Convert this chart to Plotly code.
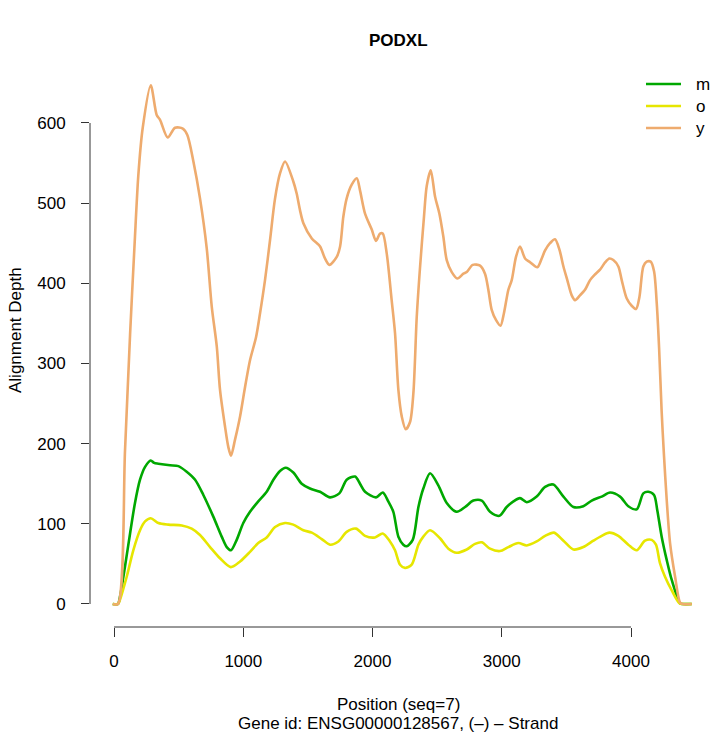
import plotly.graph_objects as go

# Alignment depth profiles along the PODXL transcript
pos_m = [-10, 30, 46, 85, 124, 162, 201, 240, 284, 310, 343, 433, 498, 562, 627, 691, 768, 833, 872, 905,
         949, 1000, 1052, 1116, 1181, 1233, 1284, 1328, 1387, 1452, 1516, 1594, 1671, 1743, 1800, 1865,
         1903, 1942, 2027, 2079, 2122, 2161, 2200, 2238, 2265, 2311, 2355, 2393, 2445, 2509, 2574, 2651,
         2716, 2780, 2845, 2909, 2981, 3038, 3090, 3141, 3193, 3270, 3335, 3399, 3477, 3554, 3631, 3696,
         3773, 3838, 3915, 3979, 4044, 4095, 4134, 4178, 4203, 4237, 4276, 4315, 4379, 4400, 4470]
depth_m = [0, 0, 9, 47, 88, 126, 155, 171, 179, 176, 175, 173, 172, 165, 155, 136, 109, 84, 71, 67,
           80, 101, 115, 128, 140, 155, 166, 170, 164, 150, 144, 140, 133, 138, 155, 159,
           150, 140, 133, 139, 128, 115, 84, 74, 72, 80, 121, 144, 163, 148, 126, 115,
           121, 129, 129, 115, 110, 121, 128, 132, 127, 134, 146, 149, 134, 121, 122, 129,
           134, 139, 134, 122, 118, 138, 140, 136, 117, 84, 55, 30, 1, 0, 0]

pos_o = [-10, 30, 41, 98, 149, 201, 240, 284, 343, 420, 524, 601, 665, 743, 820, 903, 975, 1052, 1116,
         1181, 1246, 1323, 1387, 1465, 1530, 1607, 1671, 1736, 1800, 1872, 1942, 2019, 2079, 2135, 2174,
         2213, 2251, 2303, 2355, 2393, 2445, 2522, 2587, 2651, 2729, 2793, 2845, 2909, 2986, 3051, 3128,
         3193, 3270, 3335, 3404, 3477, 3554, 3631, 3709, 3773, 3832, 3902, 3979, 4044, 4108, 4160, 4193,
         4224, 4263, 4315, 4374, 4400, 4470]
depth_o = [0, 0, 3, 34, 67, 92, 103, 107, 101, 99, 98, 94, 86, 71, 57, 46, 53, 65, 76,
           83, 96, 101, 99, 92, 89, 81, 74, 78, 90, 94, 85, 83, 88, 78, 67,
           49, 45, 49, 74, 84, 92, 82, 69, 64, 68, 75, 77, 69, 66, 71, 76,
           73, 78, 85, 89, 79, 68, 71, 79, 85, 89, 85, 74, 67, 79, 80, 74,
           51, 34, 17, 1, 0, 0]

pos_y = [-10, 30, 85, 124, 160, 188, 222, 284, 330, 356, 415, 472, 532, 567, 614, 665, 717, 756, 795,
         820, 859, 884, 905, 936, 975, 1014, 1052, 1099, 1130, 1168, 1207, 1245, 1284, 1323, 1387, 1413,
         1439, 1465, 1530, 1594, 1632, 1666, 1723, 1749, 1774, 1800, 1839, 1878, 1903, 1942, 1994, 2027,
         2058, 2079, 2110, 2148, 2174, 2200, 2226, 2257, 2290, 2316, 2342, 2368, 2398, 2419, 2450, 2484,
         2517, 2548, 2574, 2613, 2656, 2703, 2729, 2775, 2832, 2870, 2896, 2922, 2956, 2990, 3017, 3051,
         3077, 3110, 3141, 3180, 3213, 3275, 3309, 3335, 3373, 3412, 3446, 3477, 3507, 3541, 3567, 3605,
         3644, 3683, 3721, 3760, 3799, 3833, 3863, 3902, 3928, 3967, 4005, 4039, 4065, 4095, 4121, 4152,
         4178, 4199, 4217, 4237, 4255, 4276, 4302, 4341, 4379, 4400, 4470]
depth_y = [0, 0, 192, 336, 452, 535, 594, 647, 610, 604, 582, 594, 593, 585, 552, 506, 444, 371, 321,
           267, 221, 196, 185, 205, 234, 271, 304, 333, 363, 404, 454, 505, 537, 552, 527, 512,
           491, 475, 456, 446, 431, 423, 433, 446, 483, 506, 523, 531, 516, 487, 467, 453,
           462, 462, 437, 379, 338, 267, 234, 218, 227, 263, 358, 421, 483, 521, 541, 508,
           487, 458, 429, 414, 406, 412, 414, 423, 422, 412, 392, 367, 354, 347, 363, 392,
           404, 433, 446, 431, 427, 420, 431, 441, 450, 455, 442, 421, 404, 385, 379, 385,
           392, 404, 411, 417, 426, 431, 429, 421, 404, 381, 372, 368, 383, 421, 427, 427,
           415, 375, 320, 240, 185, 130, 76, 34, 2, 0, 0]

series = [("m", pos_m, depth_m, "#00A800"),
          ("o", pos_o, depth_o, "#E6E600"),
          ("y", pos_y, depth_y, "#EEAB6E")]

x_ticks = [0, 1000, 2000, 3000, 4000]
y_ticks = [0, 100, 200, 300, 400, 500, 600]

FONT = "Liberation Sans, Arial, sans-serif"
FS = 17

fig = go.Figure()
for name, xs, ys, color in series:
    fig.add_trace(go.Scatter(x=xs, y=ys, mode="lines", name=name, showlegend=False,
                             line=dict(color=color, width=2.6, shape="spline", smoothing=0.8)))

L, R, T, B = 90, 0, 60, 109
W, H = 710, 736
pw, ph = W - L - R, H - T - B


def px_x(p):
    return (p - L) / pw


def px_y(p):
    return (H - B - p) / ph


fig.update_layout(
    width=W, height=H,
    margin=dict(l=L, r=R, t=T, b=B),
    plot_bgcolor="white", paper_bgcolor="white",
    font=dict(family=FONT, size=FS, color="black"),
    showlegend=False,
    xaxis=dict(range=[-186, 4611], tickvals=x_ticks, ticks="outside", ticklen=9,
               tickcolor="#333", tickwidth=1, showline=False, showgrid=False, zeroline=False,
               ticklabelstandoff=10, fixedrange=True),
    yaxis=dict(range=[-28.7, (604 - T) / 0.8017], tickvals=y_ticks, ticks="outside",
               ticklen=8, tickcolor="#333", tickwidth=1, showline=False, showgrid=False,
               zeroline=False, ticklabelstandoff=12, fixedrange=True),
)

# Axis spines spanning only the labelled tick range
fig.add_shape(type="line", xref="x", yref="paper", x0=0, x1=4000, y0=0, y1=0,
              line=dict(color="#333", width=1))
fig.add_shape(type="line", xref="paper", yref="paper", x0=0, x1=0, y0=px_y(604), y1=px_y(123),
              line=dict(color="#333", width=1))

# Legend: line keys with series names, top right
for i, (name, _, _, color) in enumerate(series):
    yc = px_y(84 + 22 * i)
    fig.add_shape(type="line", xref="paper", yref="paper", x0=px_x(646), x1=px_x(681),
                  y0=yc, y1=yc, line=dict(color=color, width=2.6))
    fig.add_annotation(text=name, xref="paper", yref="paper", x=px_x(694), y=yc,
                       showarrow=False, xanchor="left", yanchor="middle", font=dict(size=FS))

fig.add_annotation(text="<b>PODXL</b>", xref="paper", yref="paper", x=px_x(398), y=px_y(40),
                   showarrow=False, xanchor="center", yanchor="middle", font=dict(size=FS))
fig.add_annotation(text="Position (seq=7)", xref="paper", yref="paper", x=px_x(398), y=px_y(704),
                   showarrow=False, xanchor="center", yanchor="middle", font=dict(size=FS))
fig.add_annotation(text="Gene id: ENSG00000128567, (\u2013) \u2013 Strand", xref="paper", yref="paper",
                   x=px_x(398), y=px_y(723), showarrow=False, xanchor="center", yanchor="middle",
                   font=dict(size=FS))
fig.add_annotation(text="Alignment Depth", xref="paper", yref="paper", x=px_x(15), y=px_y(330),
                   showarrow=False, xanchor="center", yanchor="middle", textangle=-90,
                   font=dict(size=FS))

fig.write_html("out.html")
